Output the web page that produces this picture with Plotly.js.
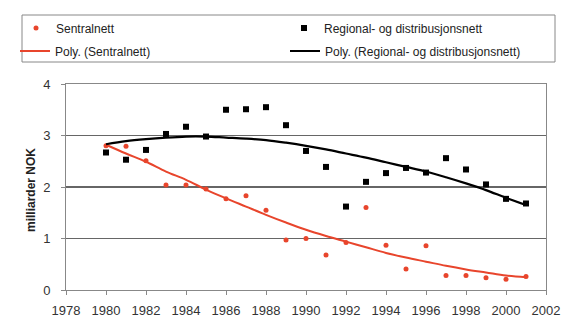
<!DOCTYPE html>
<html><head><meta charset="utf-8">
<script src="https://cdn.plot.ly/plotly-3.0.1.min.js"></script>
<style>html,body{margin:0;padding:0;background:#fff}#c{width:565px;height:317px}</style>
</head><body><div id="c"></div>
<script>
const years = [1980,1981,1982,1983,1984,1985,1986,1987,1988,1989,1990,1991,1992,1993,1994,1995,1996,1997,1998,1999,2000,2001];
const sentralnett = [2.80,2.79,2.51,2.04,2.04,1.96,1.77,1.83,1.55,0.97,1.00,0.68,0.92,1.60,0.87,0.41,0.86,0.28,0.28,0.24,0.21,0.26];
const regional = [2.67,2.53,2.72,3.03,3.17,2.98,3.50,3.51,3.55,3.20,2.70,2.39,1.62,2.10,2.27,2.37,2.28,2.56,2.34,2.05,1.77,1.68];
// trendlines as drawn in the reference (Excel "Poly." trendlines), read per year
const polySentralnett = [2.82,2.65,2.49,2.30,2.14,1.95,1.78,1.62,1.46,1.31,1.17,1.05,0.94,0.83,0.72,0.63,0.55,0.47,0.40,0.34,0.28,0.25];
const polyRegional = [2.83,2.89,2.93,2.96,2.98,2.98,2.96,2.94,2.91,2.86,2.80,2.73,2.65,2.57,2.48,2.39,2.30,2.19,2.07,1.94,1.79,1.65];
const xTicks = [1978,1980,1982,1984,1986,1988,1990,1992,1994,1996,1998,2000,2002];
const yTicks = [0,1,2,3,4];
const yTitle = 'milliarder NOK';

const W = 565, H = 317;
const cx = px => px / W, cy = py => 1 - py / H;
const red = '#e8452c';
const data = [
  {x:years,y:sentralnett,type:'scatter',mode:'markers',name:'Sentralnett',legend:'legend',marker:{color:red,size:5,symbol:'circle'}},
  {x:years,y:regional,type:'scatter',mode:'markers',name:'Regional- og distribusjonsnett',legend:'legend2',marker:{color:'#000',size:6,symbol:'square'}},
  {x:years,y:polySentralnett,type:'scatter',mode:'lines',name:'Poly. (Sentralnett)',legend:'legend3',line:{color:red,width:2,shape:'spline'}},
  {x:years,y:polyRegional,type:'scatter',mode:'lines',name:'Poly. (Regional- og distribusjonsnett)',legend:'legend4',line:{color:'#000',width:2.2,shape:'spline'}}
];
function leg(px, py){
  return {xref:'container',yref:'container',x:cx(px),y:cy(py),xanchor:'left',yanchor:'middle',
    bgcolor:'rgba(0,0,0,0)',borderwidth:0,font:{size:12,color:'#222'},itemwidth:30};
}
const L = 66, R = 546, T = 84, B = 290;
const px2x = px => (px - L) / (R - L), py2y = py => (B - py) / (B - T);
const layout = {
  width:W,height:H,
  margin:{l:L,r:W-R,t:T,b:H-B,autoexpand:false},
  paper_bgcolor:'#fff',plot_bgcolor:'#fff',
  font:{family:'Liberation Sans, Arial, sans-serif',size:12,color:'#222'},
  showlegend:true,
  legend:leg(16,28), legend2:leg(284,28), legend3:leg(15,51), legend4:leg(285,51),
  shapes:[{type:'rect',xref:'paper',yref:'paper',x0:px2x(22),x1:px2x(555),y0:py2y(15),y1:py2y(62),
    line:{color:'#888',width:1},fillcolor:'rgba(0,0,0,0)'}],
  annotations:[{text:'<b>'+yTitle+'</b>',textangle:-90,xref:'paper',yref:'paper',x:px2x(31),y:py2y(190),
    xanchor:'center',yanchor:'middle',showarrow:false,font:{size:12,color:'#222'}}],
  xaxis:{range:[1978,2002],tickvals:xTicks,ticktext:xTicks.map(String),showgrid:false,zeroline:false,
    showline:true,linecolor:'#888',linewidth:1,mirror:true,ticks:'outside',ticklen:4,tickcolor:'#888',
    ticklabelstandoff:4,tickfont:{size:13,color:'#333'}},
  yaxis:{range:[0,4],tickvals:yTicks,ticktext:yTicks.map(String),showgrid:true,gridcolor:'#666',gridwidth:1.2,zeroline:false,
    showline:true,linecolor:'#888',linewidth:1,mirror:true,ticks:'outside',ticklen:4,tickcolor:'#888',
    ticklabelstandoff:8,tickfont:{size:13,color:'#333'}}
};
Plotly.newPlot('c',data,layout,{staticPlot:true,displayModeBar:false});
</script></body></html>
